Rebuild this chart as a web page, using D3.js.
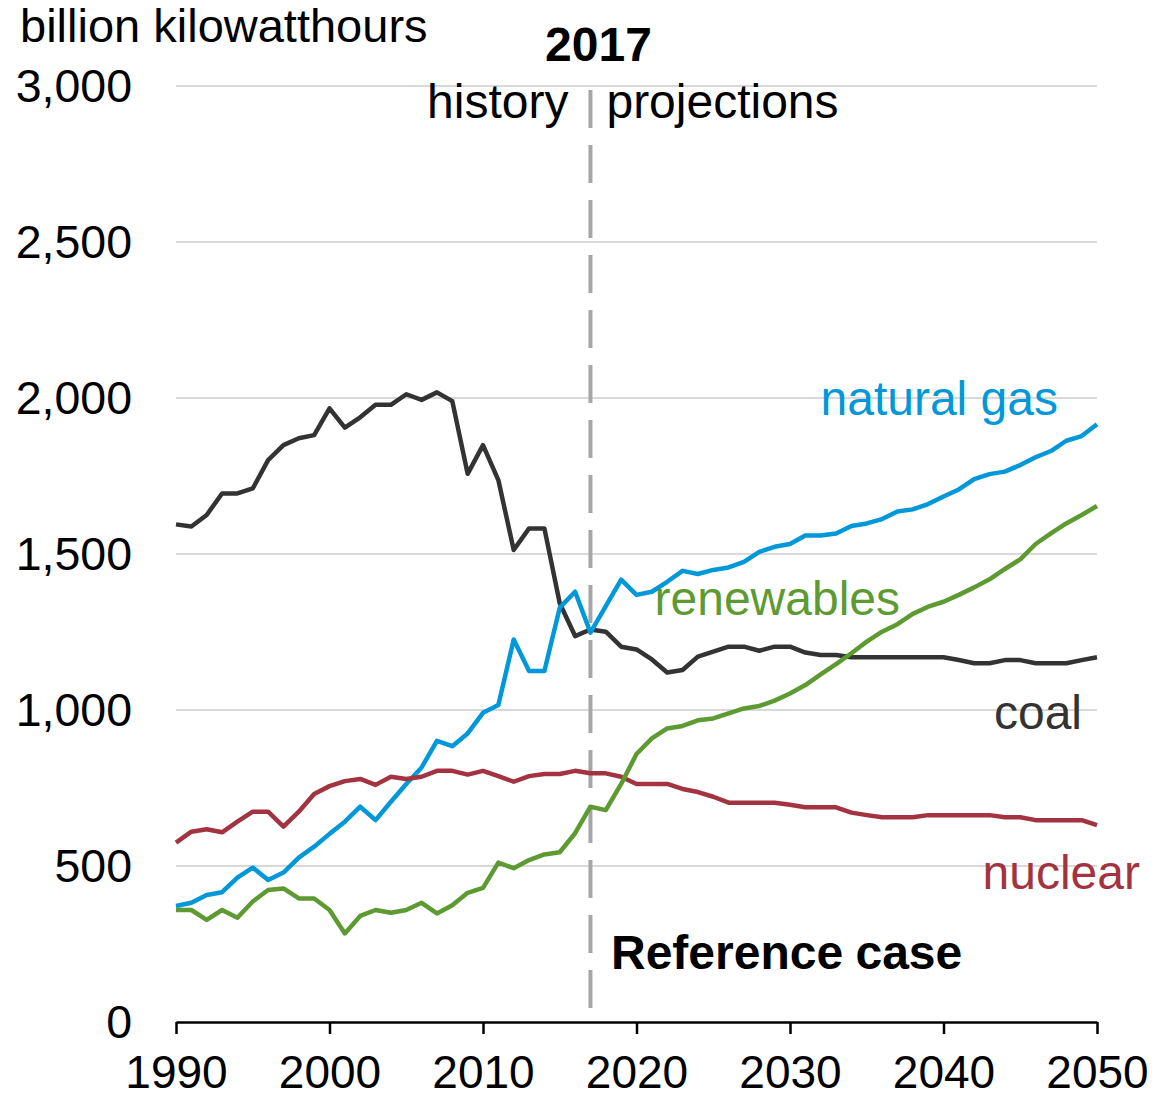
<!DOCTYPE html>
<html lang="en">
<head>
    <meta charset="UTF-8">
    <title>Electricity generation by fuel</title>
    <script src="https://d3js.org/d3.v7.min.js"></script>
    <style>
        body { margin: 0; background: #fff; font-family: Arial, "Liberation Sans", sans-serif; }
        svg { display: block; }
        .grid line { stroke: #d9d9d9; stroke-width: 2px; }
        .series { fill: none; stroke-width: 4.5px; stroke-linejoin: round; }
    </style>
</head>
<body>
    <svg id="chart" width="1174" height="1098"></svg>
    <script>
        const years = d3.range(1990, 2051);

        const coal = [1595, 1588, 1625, 1694, 1694, 1710, 1801, 1849, 1871, 1881,
            1967, 1905, 1938, 1978, 1978, 2012, 1994, 2018, 1990, 1757,
            1849, 1737, 1513, 1582, 1582, 1342, 1237, 1258, 1251, 1203,
            1194, 1162, 1120, 1128, 1171, 1187, 1203, 1203, 1190, 1203,
            1203, 1184, 1176, 1176, 1169, 1169, 1169, 1169, 1169, 1169,
            1169, 1160, 1150, 1150, 1160, 1160, 1150, 1150, 1150, 1160, 1169];

        const naturalGas = [372, 382, 407, 416, 463, 495, 455, 479, 527, 562,
            603, 642, 690, 647, 706, 763, 816, 901, 884, 925,
            991, 1016, 1226, 1125, 1125, 1328, 1379, 1248, 1333, 1418,
            1369, 1379, 1411, 1446, 1436, 1449, 1457, 1475, 1507, 1523,
            1532, 1559, 1559, 1566, 1590, 1598, 1612, 1636, 1643, 1660,
            1684, 1707, 1740, 1756, 1764, 1785, 1810, 1830, 1863, 1878, 1916];

        const nuclear = [575, 610, 618, 608, 642, 674, 674, 626, 674, 731,
            756, 772, 779, 760, 786, 779, 786, 805, 805, 793,
            805, 788, 770, 788, 795, 795, 805, 797, 797, 786,
            763, 763, 763, 747, 737, 722, 703, 703, 703, 703,
            696, 688, 688, 688, 671, 663, 656, 656, 656, 663,
            663, 663, 663, 663, 656, 656, 647, 647, 647, 647, 631];

        const renewables = [359, 359, 327, 359, 334, 386, 423, 428, 396, 396,
            359, 284, 340, 359, 350, 359, 382, 348, 374, 414,
            430, 511, 493, 519, 537, 544, 605, 690, 679, 763,
            859, 909, 941, 949, 967, 973, 989, 1005, 1013, 1030,
            1053, 1080, 1114, 1147, 1182, 1219, 1251, 1275, 1308, 1331,
            1347, 1369, 1393, 1419, 1452, 1483, 1532, 1566, 1598, 1625, 1654];

        const seriesNames = ["coal", "natural gas", "nuclear", "renewables"];
        const seriesValues = [coal, naturalGas, nuclear, renewables];
        const seriesColors = ["#333333", "#0098d8", "#a33340", "#5e9a32"];

        const yTicks = [0, 500, 1000, 1500, 2000, 2500, 3000];
        const xTicks = [1990, 2000, 2010, 2020, 2030, 2040, 2050];
        const splitYear = 2017;

        const svg = d3.select("#chart");
        const margin = { left: 176, right: 77, top: 86, bottom: 76 };
        const width = 1174, height = 1098;

        const x = d3.scaleLinear().domain([1990, 2050]).range([margin.left, width - margin.right]);
        const y = d3.scaleLinear().domain([0, 3000]).range([height - margin.bottom, margin.top]);

        // gridlines
        svg.append("g").attr("class", "grid")
            .selectAll("line")
            .data(yTicks.filter(d => d > 0))
            .enter().append("line")
            .attr("x1", x(1990)).attr("x2", x(2050))
            .attr("y1", d => y(d)).attr("y2", d => y(d));

        // y labels
        svg.append("g").selectAll("text")
            .data(yTicks)
            .enter().append("text")
            .attr("x", 132).attr("y", d => y(d))
            .attr("dy", "0.35em")
            .attr("text-anchor", "end")
            .style("font-size", "46.5px")
            .text(d => d3.format(",")(d));

        svg.append("text")
            .attr("x", 20).attr("y", 42)
            .style("font-size", "47px")
            .text("billion kilowatthours");

        // x axis
        const xAxis = d3.axisBottom(x)
            .tickValues(xTicks)
            .tickFormat(d3.format("d"))
            .tickSize(12)
            .tickSizeOuter(0);
        const gx = svg.append("g")
            .attr("transform", `translate(0,${y(0)})`)
            .call(xAxis);
        gx.select(".domain").attr("stroke", "#000").attr("stroke-width", 2.5);
        gx.selectAll(".tick line").attr("stroke", "#000").attr("stroke-width", 2.5);
        gx.selectAll(".tick text")
            .attr("y", 33)
            .attr("dy", "0.71em")
            .style("font-size", "46px")
            .style("font-family", "Arial, 'Liberation Sans', sans-serif")
            .attr("fill", "#000");

        // history / projections divider
        svg.append("line")
            .attr("x1", x(splitYear)).attr("x2", x(splitYear))
            .attr("y1", 90).attr("y2", y(0))
            .attr("stroke", "#a6a6a6")
            .attr("stroke-width", 4)
            .attr("stroke-dasharray", "38 17");

        svg.append("text")
            .attr("x", x(splitYear) + 8).attr("y", 61)
            .attr("text-anchor", "middle")
            .style("font-size", "48px").style("font-weight", "bold")
            .text("2017");
        svg.append("text")
            .attr("x", x(splitYear) - 22).attr("y", 118)
            .attr("text-anchor", "end")
            .style("font-size", "48px")
            .text("history");
        svg.append("text")
            .attr("x", x(splitYear) + 16).attr("y", 118)
            .style("font-size", "48px")
            .text("projections");

        // series lines
        const line = d3.line()
            .x((d, i) => x(years[i]))
            .y(d => y(d));

        svg.append("g").selectAll("path")
            .data(seriesValues)
            .enter().append("path")
            .attr("class", "series")
            .attr("stroke", (d, i) => seriesColors[i])
            .attr("d", line);

        // series labels
        const labelPos = [
            { x: 1082, y: 729 },
            { x: 1058, y: 415 },
            { x: 1140, y: 889 },
            { x: 900, y: 615 }
        ];
        svg.append("g").selectAll("text")
            .data(seriesNames)
            .enter().append("text")
            .attr("x", (d, i) => labelPos[i].x)
            .attr("y", (d, i) => labelPos[i].y)
            .attr("text-anchor", "end")
            .attr("fill", (d, i) => seriesColors[i])
            .style("font-size", "48px")
            .text(d => d);

        svg.append("text")
            .attr("x", 611).attr("y", 969)
            .style("font-size", "48px").style("font-weight", "bold")
            .style("word-spacing", "-1px")
            .text("Reference case");
    </script>
</body>
</html>
